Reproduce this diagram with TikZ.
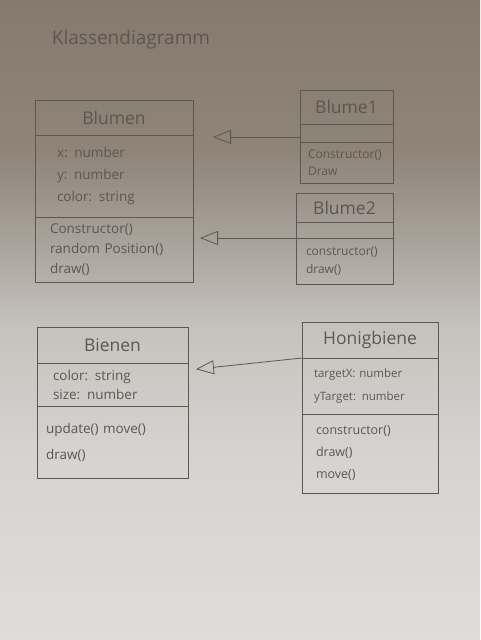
\documentclass[tikz,border=0pt]{standalone}
\usepackage{fontspec}
\setmainfont{Open Sans}
\usetikzlibrary{arrows.meta,positioning}
\definecolor{pencil}{HTML}{5C5750}
\definecolor{papertop}{HTML}{857A6D}
\definecolor{paperdark}{HTML}{8E8478}
\definecolor{paperdim}{HTML}{ABA59D}
\definecolor{papermid}{HTML}{C6C3BE}
\definecolor{paperlow}{HTML}{D4D3D0}
\definecolor{paperbot}{HTML}{DEDDDB}
\pgfdeclareverticalshading{paper}{100bp}{color(0bp)=(paperbot); color(25bp)=(paperbot);
  color(39.8bp)=(paperlow); color(49.2bp)=(papermid); color(55.5bp)=(paperdim);
  color(63.3bp)=(paperdark); color(75bp)=(papertop); color(100bp)=(papertop)}

\begin{document}
\begin{tikzpicture}[x=1pt, y=-1pt,
  compart/.style={draw=pencil, line width=0.8pt, inner ysep=1pt, outer sep=0pt, text=pencil, align=left},
  head/.style={compart, align=center, inner xsep=4pt, font=\fontsize{17.5}{20}\selectfont},
  attrs/.style={compart, font=\fontsize{13.5}{22}\selectfont},
  meths/.style={compart, font=\fontsize{13.5}{20}\selectfont},
  inherit/.style={draw=pencil, line width=0.8pt, -{Triangle[open, length=18pt, width=14pt]}},
  title/.style={text=pencil, font=\fontsize{19}{22}\selectfont}]
\useasboundingbox[shading=paper] (0,0) rectangle (480,640);
\node[title] (title) at (131,40) {Klassendiagramm};
% Blumen
\node[head, anchor=north west, text width=150pt, minimum height=35pt] (blumenhead) at (35,100) {Blumen};
\node[attrs, inner xsep=22pt, text width=114pt, minimum height=82pt, below=0pt of blumenhead] (blumenattr) {x: number\\y: number\\color: string};
\node[meths, inner xsep=15pt, text width=128pt, minimum height=65pt, below=0pt of blumenattr] (blumenmeth) {Constructor()\\random Position()\\draw()};
% Blume1
\node[head, anchor=north west, text width=85pt, minimum height=34pt] (b1head) at (300,90) {Blume1};
\node[compart, minimum width=93pt, minimum height=18pt, below=0pt of b1head] (b1attr) {};
\node[meths, inner xsep=8pt, text width=77pt, minimum height=41pt, font=\fontsize{12}{17}\selectfont, below=0pt of b1attr] (b1meth) {Constructor()\\Draw};
% Blume2
\node[head, anchor=north west, text width=89pt, minimum height=29pt] (b2head) at (296,193) {Blume2};
\node[compart, minimum width=97pt, minimum height=16pt, below=0pt of b2head] (b2attr) {};
\node[meths, inner xsep=10pt, text width=77pt, minimum height=46pt, font=\fontsize{12}{18}\selectfont, below=0pt of b2attr] (b2meth) {constructor()\\draw()};
% Bienen
\node[head, anchor=north west, text width=143pt, minimum height=36pt] (bienenhead) at (37,327) {Bienen};
\node[attrs, inner xsep=16pt, text width=119pt, minimum height=43pt, font=\fontsize{13.5}{19}\selectfont, below=0pt of bienenhead] (bienenattr) {color: string\\size: number};
\node[meths, inner xsep=9pt, text width=133pt, minimum height=72pt, font=\fontsize{13.5}{26}\selectfont, below=0pt of bienenattr] (bienenmeth) {update() move()\\draw()\\[4pt]};
% Honigbiene
\node[head, anchor=north west, text width=128pt, minimum height=36pt] (honighead) at (302,322) {Honigbiene};
\node[attrs, inner xsep=12pt, text width=112pt, minimum height=56pt, font=\fontsize{11.5}{23}\selectfont, below=0pt of honighead] (honigattr) {targetX: number\\yTarget: number};
\node[meths, inner xsep=14pt, text width=108pt, minimum height=79pt, font=\fontsize{12.5}{22}\selectfont, below=0pt of honigattr] (honigmeth) {constructor()\\draw()\\move()};
% Vererbung
\draw[inherit, shorten >=20pt] ([yshift=-4pt]b1attr.west) -- ([yshift=-4pt]b1attr.west -| blumenattr.east);
\draw[inherit, shorten >=7pt] (b2meth.north west) -- (b2meth.north west -| blumenmeth.east);
\draw[inherit, shorten >=8pt] (honighead.south west) -- ([yshift=-12pt]honighead.south west -| bienenattr.east);
\end{tikzpicture}
\end{document}
